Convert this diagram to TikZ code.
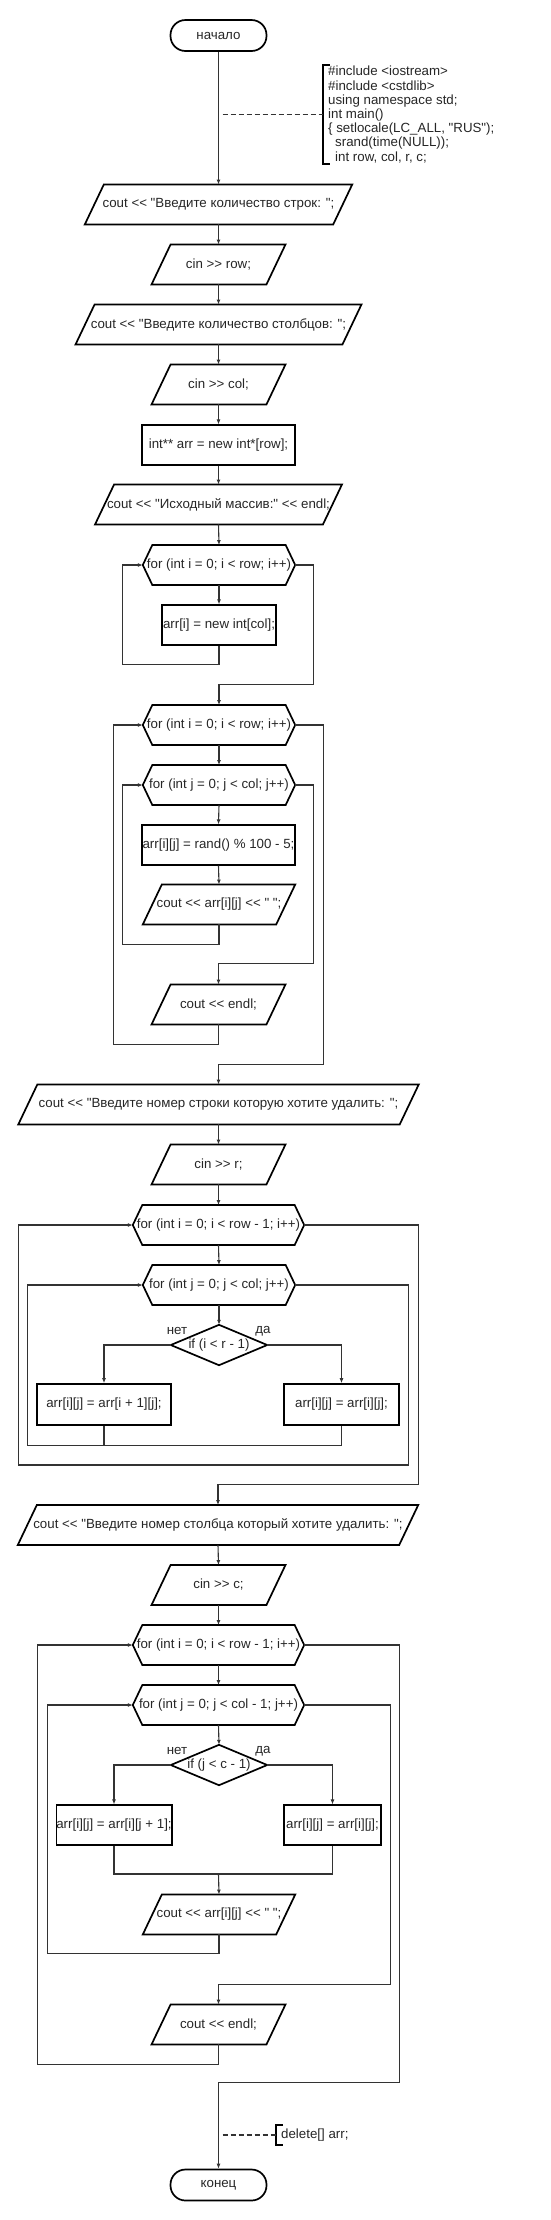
\documentclass[tikz,border=0pt]{standalone}
\usepackage{fontspec}
\usepackage{tikz}
\usetikzlibrary{arrows.meta}
\newfontfamily\flowfont{Liberation Sans}

\tikzset{
	blockbase/.style={font=\flowfont\fontsize{13.3}{14.2}\selectfont, text=black!85, inner sep=0pt, minimum height=39.5pt},
	shapeline/.style={line width=1.7pt, draw=black, line join=miter},
	term/.style={blockbase, shapeline, rounded corners=15pt, minimum width=96pt, minimum height=31pt},
	proc/.style={blockbase, shapeline},
	io/.style={blockbase, append after command={\pgfextra{\draw[shapeline] ([xshift=9.5pt]\tikzlastnode.north west) -- ([xshift=9.5pt]\tikzlastnode.north east) -- ([xshift=-9.5pt]\tikzlastnode.south east) -- ([xshift=-9.5pt]\tikzlastnode.south west) -- cycle;}}},
	prep/.style={blockbase, append after command={\pgfextra{\draw[shapeline] (\tikzlastnode.west) -- ([xshift=9.5pt]\tikzlastnode.north west) -- ([xshift=-9.5pt]\tikzlastnode.north east) -- (\tikzlastnode.east) -- ([xshift=-9.5pt]\tikzlastnode.south east) -- ([xshift=9.5pt]\tikzlastnode.south west) -- cycle;}}},
	decide/.style={blockbase, minimum height=40pt, append after command={\pgfextra{\draw[shapeline] (\tikzlastnode.west) -- (\tikzlastnode.north) -- (\tikzlastnode.east) -- (\tikzlastnode.south) -- cycle;}}},
	remark/.style={blockbase, anchor=west, align=left, inner xsep=5pt, inner ysep=1pt, append after command={\pgfextra{\draw[shapeline] ([xshift=7pt]\tikzlastnode.north west) -- (\tikzlastnode.north west) -- (\tikzlastnode.south west) -- ([xshift=7pt]\tikzlastnode.south west);}}},
	answer/.style={blockbase, minimum height=0pt},
	plainline/.style={line width=1.1pt, black!80},
	arrowline/.style={plainline, -{Latex[length=5pt,width=4pt]}},
	dashline/.style={plainline, dash pattern=on 5pt off 3pt},
}

\begin{document}
\begin{tikzpicture}[x=1pt,y=-1pt]
	\useasboundingbox (0,0) rectangle (550,2220);
	
	\node[term] (start) at (218.5,35.5) {начало};
	\node[io,minimum width=248pt] (in1) at (218.5,204.5) {cout << "Введите количество строк: ";};
	\node[io,minimum width=114.5pt] (in2) at (218.5,264.5) {cin >> row;};
	\node[io,minimum width=266.5pt] (in3) at (218.5,324.5) {cout << "Введите количество столбцов: ";};
	\node[io,minimum width=114.5pt] (in4) at (218.5,384.5) {cin >> col;};
	\node[proc,minimum width=153pt] (alloc) at (218.5,445) {int** arr = new int*[row];};
	\node[io,minimum width=227.5pt] (out1) at (218.5,504.5) {cout << "Исходный массив:" << endl;};
	
	\node[prep,minimum width=152pt] (for1) at (219,565) {for (int i = 0; i < row; i++)};
	\node[proc,minimum width=114pt] (alloc2) at (219,625) {arr[i] = new int[col];};
	
	\node[prep,minimum width=152pt] (for2) at (219,725) {for (int i = 0; i < row; i++)};
	\node[prep,minimum width=152pt] (for3) at (219,785) {for (int j = 0; j < col; j++)};
	\node[proc,minimum width=153pt] (fill) at (218.5,845) {arr[i][j] = rand() \% 100 - 5;};
	\node[io,minimum width=133pt] (out2) at (219,904.5) {cout << arr[i][j] << " ";};
	\node[io,minimum width=114.5pt] (out3) at (218.5,1004.5) {cout << endl;};
	
	\node[io,minimum width=381pt] (in5) at (218.5,1104.5) {cout << "Введите номер строки которую хотите удалить: ";};
	\node[io,minimum width=114.5pt] (in6) at (218.5,1164.5) {cin >> r;};
	\node[prep,minimum width=171pt] (for4) at (218.5,1225) {for (int i = 0; i < row - 1; i++)};
	\node[prep,minimum width=152pt] (for5) at (219,1285) {for (int j = 0; j < col; j++)};
	\node[decide,minimum width=96pt] (if1) at (219,1345) {if (i < r - 1)};
	\node[answer] (no1) at (177,1331) {нет};
	\node[answer] (yes1) at (263,1331) {да};
	\node[proc,minimum width=134pt,minimum height=41pt] (shl1) at (104,1404.5) {arr[i][j] = arr[i + 1][j];};
	\node[proc,minimum width=115pt,minimum height=41pt] (shr1) at (341.5,1404.5) {arr[i][j] = arr[i][j];};
	
	\node[io,minimum width=381pt] (in7) at (218,1525) {cout << "Введите номер столбца который хотите удалить: ";};
	\node[io,minimum width=114.5pt] (in8) at (218.5,1585) {cin >> c;};
	\node[prep,minimum width=171pt] (for6) at (218.5,1645) {for (int i = 0; i < row - 1; i++)};
	\node[prep,minimum width=171pt] (for7) at (218.5,1705) {for (int j = 0; j < col - 1; j++)};
	\node[decide,minimum width=96pt] (if2) at (219,1765) {if (j < c - 1)};
	\node[answer] (no2) at (177,1751) {нет};
	\node[answer] (yes2) at (263,1751) {да};
	\node[proc,minimum width=114pt] (shl2) at (114,1825) {arr[i][j] = arr[i][j + 1];};
	\node[proc,minimum width=97pt] (shr2) at (332.5,1825) {arr[i][j] = arr[i][j];};
	\coordinate (join2) at (218.5,1874);
	\node[io,minimum width=133pt] (out4) at (219,1914.5) {cout << arr[i][j] << " ";};
	\node[io,minimum width=114.5pt] (out5) at (218.5,2024.5) {cout << endl;};
	\node[term] (stop) at (218.5,2185) {конец};
	
	\node[remark,minimum height=99pt] (cmt1) at (323,114.5) {\#include <iostream>\\
		\#include <cstdlib>\\
		using namespace std;\\
		int main()\\
		\{ setlocale(LC\_ALL, "RUS");\\
		\hspace*{7pt}srand(time(NULL));\\
		\hspace*{7pt}int row, col, r, c;};
	\node[remark,minimum height=20pt] (cmt2) at (276,2135) {delete[] arr;};
	\coordinate (tap1) at (218.5,114.5);
	\coordinate (tap2) at (218.5,2135);
	\draw[dashline,shorten <=4pt] (tap1) -- (cmt1.west);
	\draw[dashline,shorten <=4pt] (tap2) -- (cmt2.west);
	
	\foreach \a/\b in {start/in1,in1/in2,in2/in3,in3/in4,in4/alloc,alloc/out1,out1/for1,for1/alloc2,for2/for3,for3/fill,fill/out2,in5/in6,in6/for4,for4/for5,for5/if1,in7/in8,in8/for6,for6/for7,for7/if2}
		\draw[arrowline] (\a.south) -- (\b.north);
	
	\draw[arrowline] (alloc2.south) -- ++(0,19) -| ([xshift=-20pt]for1.west) -- (for1.west);
	\draw[arrowline] (for1.east) -- ++(18,0) |- ([yshift=21pt]for2.north) -- (for2.north);
	
	\draw[arrowline] (out2.south) -- ++(0,20) -| ([xshift=-20pt]for3.west) -- (for3.west);
	\draw[arrowline] (for3.east) -- ++(18,0) |- ([yshift=21pt]out3.north) -- (out3.north);
	\draw[arrowline] (out3.south) -- ++(0,20) -| ([xshift=-29pt]for2.west) -- (for2.west);
	\draw[arrowline] (for2.east) -- ++(28,0) |- ([yshift=20pt]in5.north) -- (in5.north);
	
	\draw[arrowline] (if1.west) -| (shl1.north);
	\draw[arrowline] (if1.east) -| (shr1.north);
	\draw[plainline] (shl1.south) -- ++(0,20);
	\draw[arrowline] (shr1.south) -- ++(0,20) -| ([xshift=-115pt]for5.west) -- (for5.west);
	\draw[arrowline] (for5.east) -- ++(113,0) -- ++(0,180) -| ([xshift=-114pt]for4.west) -- (for4.west);
	\draw[arrowline] (for4.east) -- ++(114,0) |- ([yshift=21pt]in7.north) -- (in7.north);
	
	\draw[arrowline] (if2.west) -| (shl2.north);
	\draw[arrowline] (if2.east) -| (shr2.north);
	\draw[plainline] (shl2.south) |- (join2) -| (shr2.south);
	\draw[arrowline] (join2) -- (out4.north);
	\draw[arrowline] (out4.south) -- ++(0,19) -| ([xshift=-85pt]for7.west) -- (for7.west);
	\draw[arrowline] (for7.east) -- ++(86,0) |- ([yshift=20pt]out5.north) -- (out5.north);
	\draw[arrowline] (out5.south) -- ++(0,20) -| ([xshift=-95pt]for6.west) -- (for6.west);
	\draw[arrowline] (for6.east) -- ++(95,0) |- ([yshift=86pt]stop.north) -- (stop.north);
\end{tikzpicture}
\end{document}
